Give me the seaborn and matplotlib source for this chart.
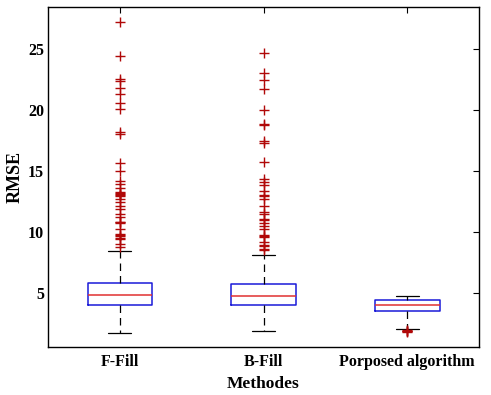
import numpy as np
import pandas as pd
import matplotlib
matplotlib.use('Agg')
import matplotlib.pyplot as plt
import seaborn as sns

# box statistics
methods = ['F-Fill', 'B-Fill', 'Porposed algorithm']
whisker_low = [1.78, 1.94, 2.10]
q1 = [4.05, 4.02, 3.52]
median = [4.84, 4.78, 4.07]
q3 = [5.80, 5.72, 4.48]
whisker_high = [8.42, 8.10, 4.81]

# outliers (repeated values where the markers pile up)
out_ffill = [27.14, 24.37, 22.53, 22.37, 21.76, 21.28, 20.57, 20.03, 18.18, 18.02,
             15.68, 15.0, 14.19, 13.92, 13.6, 13.3, 13.15, 13.1, 13.05, 12.98,
             12.7, 12.42, 12.15, 11.88, 11.47, 11.2, 10.85, 10.8, 10.75, 10.25,
             9.85, 9.75, 9.65, 9.55, 9.45, 9.03, 8.76]
out_bfill = [24.6, 23.0, 22.4, 21.66, 20.0, 18.85, 18.75, 17.4, 17.3, 15.76,
             14.32, 14.05, 13.83, 13.37, 13.0, 12.92, 12.7, 12.15, 11.66, 11.47,
             11.1, 11.02, 10.74, 10.47, 10.25, 9.72, 9.65, 9.58, 9.22, 8.92,
             8.86, 8.6, 8.52]
out_prop = [1.97, 1.93, 1.9, 1.87, 1.84]
outliers = [out_ffill, out_bfill, out_prop]

# build a sample per method whose quartiles reproduce the statistics above
rows = []
k = 200
for i, m in enumerate(methods):
    vals = ([whisker_low[i]] + [q1[i]] * k + [median[i]] * k + [q3[i]] * k
            + [whisker_high[i]] + outliers[i])
    rows += [(m, v) for v in vals]
df = pd.DataFrame(rows, columns=['method', 'rmse'])

sns.set_style('white')
plt.rcParams['font.family'] = ['Liberation Serif', 'DejaVu Serif']
plt.rcParams['font.weight'] = 'bold'
plt.rcParams['text.color'] = 'black'
plt.rcParams['axes.labelcolor'] = 'black'
plt.rcParams['xtick.color'] = 'black'
plt.rcParams['ytick.color'] = 'black'

fig = plt.figure(figsize=(4.91, 3.95), dpi=100)
ax = fig.add_axes([0.098, 0.1215, 0.8776, 0.861])

sns.boxplot(data=df, x='method', y='rmse', order=methods, ax=ax,
            width=0.45, fill=False, whis=1.5,
            boxprops=dict(color='#1a1ad8', linewidth=1.1),
            medianprops=dict(color='#e03030', linewidth=1.1),
            whiskerprops=dict(color='black', linewidth=0.9, linestyle=(0, (6, 4))),
            capprops=dict(color='black', linewidth=0.9),
            flierprops=dict(marker='+', markersize=7, markeredgecolor='#b00808',
                            markeredgewidth=1.0, linestyle='none'),
            capwidths=0.16)

ax.set_ylim(0.6, 28.4)
ax.set_xlim(-0.5, 2.5)
ax.set_yticks([5, 10, 15, 20, 25])
ax.set_xlabel('Methodes', fontsize=12.5, fontweight='bold', labelpad=4)
ax.set_ylabel('RMSE', fontsize=13, fontweight='bold', labelpad=3)
ax.tick_params(axis='both', direction='in', length=4, width=0.8, labelsize=11.5,
               top=True, right=True)
ax.tick_params(axis='x', pad=5)
ax.tick_params(axis='y', pad=3)
for lab in ax.get_xticklabels() + ax.get_yticklabels():
    lab.set_fontweight('bold')
for s in ax.spines.values():
    s.set_visible(True)
    s.set_color('black')
    s.set_linewidth(1.0)

fig.savefig('out.png', dpi=100)
